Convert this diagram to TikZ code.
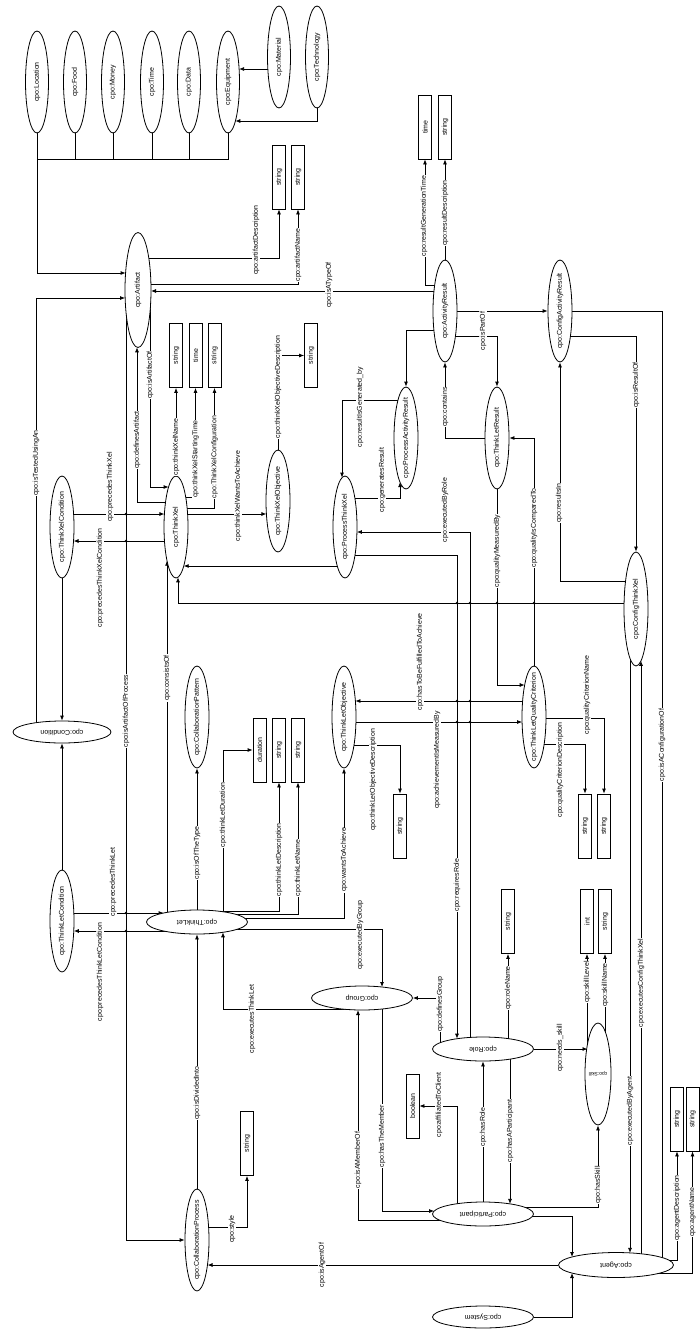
\documentclass[tikz,border=0pt]{standalone}
\usepackage{fontspec}
\setmainfont{Liberation Sans}
\usepackage{graphicx}
\usetikzlibrary{calc,arrows.meta,shapes.geometric}
\pgfdeclarelayer{bg}
\pgfsetlayers{bg,main}
\newcommand{\vtxt}[1]{\rotatebox{90}{\makebox[0pt]{#1}}}
\newcommand{\htxt}[1]{\rotatebox{180}{\makebox[0pt]{#1}}}
\tikzset{
  base/.style={font=\fontsize{7}{8}\selectfont, text=black},
  vel/.style={ellipse, draw, fill=white, line width=0.8pt, minimum width=24pt, minimum height=102pt, inner sep=0pt, base},
  hel/.style={ellipse, draw, fill=white, line width=0.8pt, minimum width=101pt, minimum height=24pt, inner sep=0pt, base},
  lit/.style={rectangle, draw, fill=white, line width=0.8pt, minimum width=13pt, minimum height=64pt, inner sep=0pt, base},
  lab/.style={fill=white, inner sep=0.6pt, rotate=90, base},
  arr/.style={line width=0.8pt, -{Latex[length=5pt,width=4pt]}},
  ln/.style={line width=0.8pt},
  jdot/.style={circle, fill=black, inner sep=0pt, minimum size=2.6pt},
}
\begin{document}
\begin{tikzpicture}[x=1pt,y=-1pt]
\useasboundingbox (0,0) rectangle (700,1330);
% ---------- vertical ellipses
\node[vel, minimum width=23pt] (Location) at (37,82) {\vtxt{cpo:Location}};
\node[vel, minimum width=23pt] (Food) at (75,82) {\vtxt{cpo:Food}};
\node[vel, minimum width=23pt] (Money) at (113,82) {\vtxt{cpo:Money}};
\node[vel, minimum width=23pt] (Time) at (152,82) {\vtxt{cpo:Time}};
\node[vel, minimum width=23pt] (Data) at (189,82) {\vtxt{cpo:Data}};
\node[vel, minimum width=23pt] (Equipment) at (228,82) {\vtxt{cpo:Equipment}};
\node[vel, minimum width=23pt] (Material) at (279,57) {\vtxt{cpo:Material}};
\node[vel, minimum width=23pt] (Technology) at (317,57) {\vtxt{cpo:Technology}};
\node[vel, minimum width=26pt, minimum height=115pt] (Artifact) at (138,290) {\vtxt{cpo:Artifact}};
\node[vel] (ActivityResult) at (445,311) {\vtxt{cpo:ActivityResult}};
\node[vel] (ConfigActivityResult) at (560,311) {\vtxt{cpo:ConfigActivityResult}};
\node[vel] (ThinkXel) at (176,527) {\vtxt{cpo:ThinkXel}};
\node[vel] (ThinkXelCondition) at (62,527) {\vtxt{cpo:ThinkXelCondition}};
\node[vel] (ThinkXelObjective) at (278,501) {\vtxt{cpo:ThinkXelObjective}};
\node[vel] (ProcessThinkXel) at (345,527) {\vtxt{cpo:ProcessThinkXel}};
\node[vel] (ProcessActivityResult) at (406,438) {\vtxt{cpo:ProcessActivityResult}};
\node[vel] (ThinkLetResult) at (497,438) {\vtxt{cpo:ThinkLetResult}};
\node[vel, minimum height=114pt] (ConfigThinkXel) at (636,609) {\vtxt{cpo:ConfigThinkXel}};
\node[vel] (TLQC) at (534,717) {\vtxt{cpo:ThinkLetQualityCriterion}};
\node[vel] (ThinkLetObjective) at (344,717) {\vtxt{cpo:ThinkLetObjective}};
\node[vel] (CollaborationPattern) at (197,717) {\vtxt{cpo:CollaborationPattern}};
\node[vel] (ThinkLetCondition) at (62,921) {\vtxt{cpo:ThinkLetCondition}};
\node[vel, minimum width=26pt, font=\fontsize{5}{6}\selectfont] (Skill) at (598,1074) {\htxt{cpo:Skill}};
\node[vel] (CollaborationProcess) at (197,1240) {\vtxt{cpo:CollaborationProcess}};
% ---------- horizontal ellipses
\node[hel, minimum width=98pt, minimum height=22pt] (Condition) at (62,732) {\htxt{cpo:Condition}};
\node[hel] (ThinkLet) at (197,922) {\htxt{cpo:ThinkLet}};
\node[hel] (Group) at (362,998) {\htxt{cpo:Group}};
\node[hel] (Role) at (483,1049) {\htxt{cpo:Role}};
\node[hel] (Participant) at (483,1214) {\htxt{cpo:Participant}};
\node[hel, minimum width=115pt, minimum height=25pt] (Agent) at (616,1265) {\htxt{cpo:Agent}};
\node[hel, minimum height=22pt] (System) at (483,1317) {\htxt{cpo:System}};
% ---------- literal boxes
\node[lit] (sA1) at (279,177) {\vtxt{string}};
\node[lit] (sA2) at (298,177) {\vtxt{string}};
\node[lit] (ar1) at (425,127) {\vtxt{time}};
\node[lit] (ar2) at (445,127) {\vtxt{string}};
\node[lit] (tx1) at (176,355.5) {\vtxt{string}};
\node[lit] (tx2) at (195.5,355.5) {\vtxt{time}};
\node[lit] (tx3) at (214.5,355.5) {\vtxt{string}};
\node[lit] (to1) at (311,355.5) {\vtxt{string}};
\node[lit] (tl1) at (259.5,750) {\vtxt{duration}};
\node[lit] (tl2) at (279,750) {\vtxt{string}};
\node[lit] (tl3) at (298,750) {\vtxt{string}};
\node[lit] (tlo1) at (400,826) {\vtxt{string}};
\node[lit] (tq1) at (585,826) {\vtxt{string}};
\node[lit] (tq2) at (604,826) {\vtxt{string}};
\node[lit] (sk1) at (587,921.5) {\vtxt{int}};
\node[lit] (sk2) at (605,921.5) {\vtxt{string}};
\node[lit] (rn1) at (508,921.5) {\vtxt{string}};
\node[lit] (bool1) at (412.5,1106) {\vtxt{boolean}};
\node[lit] (cp1) at (247,1143.5) {\vtxt{string}};
\node[lit] (ag1) at (677,1119) {\vtxt{string}};
\node[lit] (ag2) at (692.5,1119) {\vtxt{string}};
% ---------- connectors
\begin{pgfonlayer}{bg}
\coordinate (bus) at (37,159);
\draw[ln] (Location.center) -- (bus) -| (Equipment.center);
\foreach \n in {Food,Money,Time,Data} \draw[ln] (\n.center) -- (\n |- bus);
\draw[arr] (bus) |- ($(Artifact)+(-12.4,-17)$);
\draw[arr] ($(Material)+(0,12)$) -- ($(Equipment)+(11.1,-13)$);
\draw[arr] (Technology.center) |- ($(Equipment)+(7.3,39)$);
\draw[arr] ($(Artifact)+(0,-32)$) -| (sA1.south);
\draw[arr] ($(Artifact)+(0,-6)$) -| (sA2.south);
\draw[arr] ($(ActivityResult)+(0,-20)$) -- ($(Artifact)+(13,1)$);
\draw[arr] ($(Condition)+(-26,0)$) |- ($(Artifact)+(-12.9,8)$);
\draw[arr] ($(ThinkXel)+(0,-25)$) -| ($(Artifact)+(-1,57.3)$);
\draw[arr] ($(Artifact)+(12,0)$) |- ($(ThinkXel)+(-7.4,-40)$);
\draw[arr] ($(Artifact)+(-12,0)$) |- (CollaborationProcess);
\draw[arr] ($(ThinkXelCondition)+(0,-13)$) -- ($(ThinkXel)+(-11.6,-13)$);
\draw[arr] ($(ThinkXel)+(0,14)$) -- ($(ThinkXelCondition)+(11.5,14)$);
\draw[arr] (ThinkXelCondition) -- (Condition);
\draw[arr] (ThinkLetCondition) -- (Condition);
\draw[arr] (ThinkXel.center) -- (tx1.south);
\draw[arr] ($(ThinkXel)+(0,-30)$) -| (tx2.south);
\draw[arr] ($(ThinkXel)+(0,-19)$) -| (tx3.south);
\draw[arr] ($(ThinkXel)+(0,-13)$) -- ($(ThinkXelObjective)+(-11.6,13)$);
\draw[arr] (ThinkXelObjective.center) |- (to1.west);
\draw[arr] ($(ThinkLet)+(-30,0)$) -- ($(ThinkXel)+(-9,33.7)$);
\draw[arr] ($(ConfigThinkXel)+(0,-6)$) -| ($(ThinkXel)+(2,50.3)$);
\draw[arr] ($(ProcessThinkXel)+(0,39)$) -- ($(ThinkXel)+(7.7,39)$);
\draw[arr] ($(ProcessActivityResult)+(0,-38)$) -| ($(ProcessThinkXel)+(-3,-49.4)$);
\draw[arr] ($(ProcessThinkXel)+(0,-29)$) -| ($(ProcessActivityResult)+(-6,44.2)$);
\draw[arr] ($(ActivityResult)+(0,19)$) -| (ProcessActivityResult.north);
\draw[arr] (ActivityResult) -- (ConfigActivityResult);
\draw[arr] ($(ActivityResult)+(0,-26)$) -| (ar1.south);
\draw[arr] (ActivityResult.center) -- (ar2.south);
\draw[arr] ($(ActivityResult)+(0,25)$) -| (ThinkLetResult.north);
\draw[arr] (ThinkLetResult) -| (ActivityResult.south);
\draw[arr] ($(ConfigActivityResult)+(0,25)$) -| (ConfigThinkXel.north);
\draw[arr] ($(ConfigThinkXel)+(0,-28)$) -| (ConfigActivityResult.south);
\draw[ln] (ConfigActivityResult) -| ($(Agent)+(46,0)$);
\draw[arr] (ThinkLetResult.center) |- ($(TLQC)+(-9.3,-32)$);
\draw[arr] (TLQC) |- (ThinkLetResult);
\draw[arr] ($(TLQC)+(0,27)$) -| (tq1.north);
\draw[arr] ($(TLQC)+(0,1)$) -| (tq2.north);
\draw[arr] ($(TLQC)+(0,-16)$) -- ($(ThinkLetObjective)+(11.4,-16)$);
\draw[arr] ($(ThinkLetObjective)+(0,5)$) -- ($(TLQC)+(-11.9,5)$);
\draw[arr] ($(ThinkLetObjective)+(0,28)$) -| (tlo1.north);
\draw[arr] (ThinkLet) -- (CollaborationPattern);
\draw[arr] ($(ThinkLet)+(26,0)$) |- (tl1.west);
\draw[arr] ($(ThinkLet)+(0,-11)$) -| (tl2.south);
\draw[arr] ($(ThinkLet)+(0,-8)$) -| (tl3.south);
\draw[arr] ($(ThinkLet)+(0,-4)$) -| (ThinkLetObjective.south);
\draw[arr] ($(ThinkLet)+(0,7)$) -| ($(Group)+(20,-11)$);
\draw[arr] ($(Group)+(0,11)$) -| ($(ThinkLet)+(26,10.3)$);
\draw[arr] (CollaborationProcess) -- (ThinkLet);
\draw[arr] ($(ThinkLetCondition)+(0,-8)$) -- ($(ThinkLet)+(-33.4,-9)$);
\draw[arr] ($(ThinkLet)+(0,9)$) -- ($(ThinkLetCondition)+(11.8,10)$);
\draw[arr] ($(CollaborationProcess)+(0,-13)$) -| (cp1.south);
\draw[arr] ($(Group)+(20,0)$) |- ($(Participant)+(-48.9,-3)$);
\draw[arr] ($(Participant)+(0,6)$) -| ($(Group)+(-4,12)$);
\draw[arr] ($(Role)+(-43,0)$) |- (Group);
\draw[arr] (Participant) -- (Role);
\draw[arr] ($(Role)+(27,0)$) -- ($(Participant)+(27,-10.1)$);
\draw[arr] ($(Participant)+(-26,0)$) |- (bool1.east);
\draw[arr] ($(Role)+(25,0)$) -- (rn1.south);
\draw[arr] (Role) -- ($(Skill)+(-10.5,-25)$);
\draw[arr] ($(Participant)+(0,-7)$) -| (Skill.south);
\draw[arr] ($(Skill)+(-11,0)$) -- (sk1.south);
\draw[arr] ($(Skill)+(7,0)$) -- (sk2.south);
\draw[arr] ($(Role)+(-13,0)$) |- ($(ProcessThinkXel)+(11.9,5)$);
\draw[arr] ($(ProcessThinkXel)+(0,28)$) -| ($(Role)+(-26,-10.3)$);
\draw[arr] ($(Participant)+(0,2)$) -| ($(Agent)+(-44,-8)$);
\draw[arr] (System) -| ($(Agent)+(-44,8)$);
\draw[arr] (Agent) -- ($(CollaborationProcess)+(10.5,25)$);
\draw[arr] ($(ConfigThinkXel)+(-6,0)$) -- ($(Agent)+(14,-12.1)$);
\draw[arr] ($(Agent)+(25,0)$) -- ($(ConfigThinkXel)+(5,51.8)$);
\draw[arr] ($(Agent)+(0,-5)$) -| (ag1.south);
\draw[arr] ($(Agent)+(0,8)$) -| (ag2.south);
\end{pgfonlayer}
% ---------- crossing dots
\foreach \p [count=\i] in {(126,514),(126,541),(126,913),(126,931),(457,603),(470,603),(497,603),(534,603),(457,701),(470,701),(457,722),(470,722)}
  \node[jdot] (j\i) at \p {};
% ---------- edge labels
\node[lab] (L1) at (256,240) {cpo:artifactDescription};
\node[lab] (L2) at (298,255) {cpo:artifactName};
\node[lab] (L3) at (329,285) {cpo:isATypeOf};
\node[lab] (L4) at (424,216) {cpo:resultGenerationTime};
\node[lab] (L5) at (445,213) {cpo:resultDescription};
\node[lab] (L6) at (483,331) {cpo:isPartOf};
\node[lab] (L7) at (445,407) {cpo:contains};
\node[lab] (L8) at (636,385) {cpo:isResultOf};
\node[lab] (L9) at (360,407) {cpo:resultIsGenerated\_by};
\node[lab] (L10) at (382,480) {cpo:generatesResult};
\node[lab] (L11) at (445,510) {cpo:executedByRole};
\node[lab] (L12) at (559,503) {cpo:resultsIn};
\node[lab] (L13) at (497,551) {cpo:qualityMeasuredBy};
\node[lab] (L14) at (534,528) {cpo:qualityIsComparedTo};
\node[lab] (L15) at (36,463) {cpo:isTestedUsingAn};
\node[lab] (L16) at (137,440) {cpo:definesArtifact};
\node[lab] (L17) at (150,375) {cpo:isArtifactOf};
\node[lab] (L18) at (176,447) {cpo:thinkXelName};
\node[lab] (L19) at (195.5,459) {cpo:thinkXelStartingTime};
\node[lab] (L20) at (214.5,457) {cpo:ThinkXelConfiguration};
\node[lab] (L21) at (238,496) {cpo:thinkXelWantsToAchieve};
\node[lab] (L22) at (278,387) {cpo:thinkXelObjectiveDescription};
\node[lab] (L23) at (110,487) {cpo:precedesThinkXel};
\node[lab] (L24) at (100,578) {cpo:precedesThinkXelCondition};
\node[lab] (L25) at (126,711) {cpo:isArtifactOfProcess};
\node[lab] (L26) at (167,678) {cpo:consistsOf};
\node[lab] (L27) at (197,853) {cpo:isOfTheType};
\node[lab] (L28) at (223,815) {cpo:thinkLetDuration};
\node[lab] (L29) at (279,860) {cpo:thinkLetDescription};
\node[lab] (L30) at (298,868) {cpo:thinkLetName};
\node[lab] (L31) at (344,860) {cpo:wantsToAchieve};
\node[lab] (L32) at (373,780) {cpo:thinkLetObjectiveDescription};
\node[lab] (L33) at (420,662) {cpo:hasToBeFulfilledToAchieve};
\node[lab] (L34) at (437,760) {cpo:achievementIsMeasuredBy};
\node[lab] (L35) at (560,770) {cpo:qualityCriterionDescription};
\node[lab] (L36) at (587,695) {cpo:qualityCriterionName};
\node[lab] (L37) at (662,745) {cpo:isAConfigurationOf};
\node[lab] (L38) at (113,882) {cpo:precedesThinkLet};
\node[lab] (L39) at (100,972) {cpo:precedesThinkLetCondition};
\node[lab] (L40) at (360,935) {cpo:executedByGroup};
\node[lab] (L41) at (252,1019) {cpo:executesThinkLet};
\node[lab] (L42) at (457,885) {cpo:requiresRole};
\node[lab] (L43) at (197,1093) {cpo:isDividedInto};
\node[lab] (L44) at (232,1229) {cpo:style};
\node[lab] (L45) at (322,1265) {cpo:isAgentOf};
\node[lab] (L46) at (440,1004) {cpo:definesGroup};
\node[lab] (L47) at (508,988) {cpo:roleName};
\node[lab] (L48) at (587,982) {cpo:skillLevel};
\node[lab] (L49) at (605,985) {cpo:skillName};
\node[lab] (L50) at (641,983) {cpo:executesConfigThinkXel};
\node[lab] (L51) at (630,1111) {cpo:executedByAgent};
\node[lab] (L52) at (560,1048) {cpo:needs\_skill};
\node[lab] (L53) at (439,1105) {cpo:affiliatedToClient};
\node[lab] (L54) at (382,1136) {cpo:hasTheMember};
\node[lab] (L55) at (358,1160) {cpo:isAMemberOf};
\node[lab] (L56) at (483,1127) {cpo:hasRole};
\node[lab] (L57) at (510,1131) {cpo:hasAParticipant};
\node[lab] (L58) at (598,1185) {cpo:hasSkill};
\node[lab] (L59) at (677,1208) {cpo:agentDescription};
\node[lab] (L60) at (692.5,1212) {cpo:agentName};
\end{tikzpicture}
\end{document}
